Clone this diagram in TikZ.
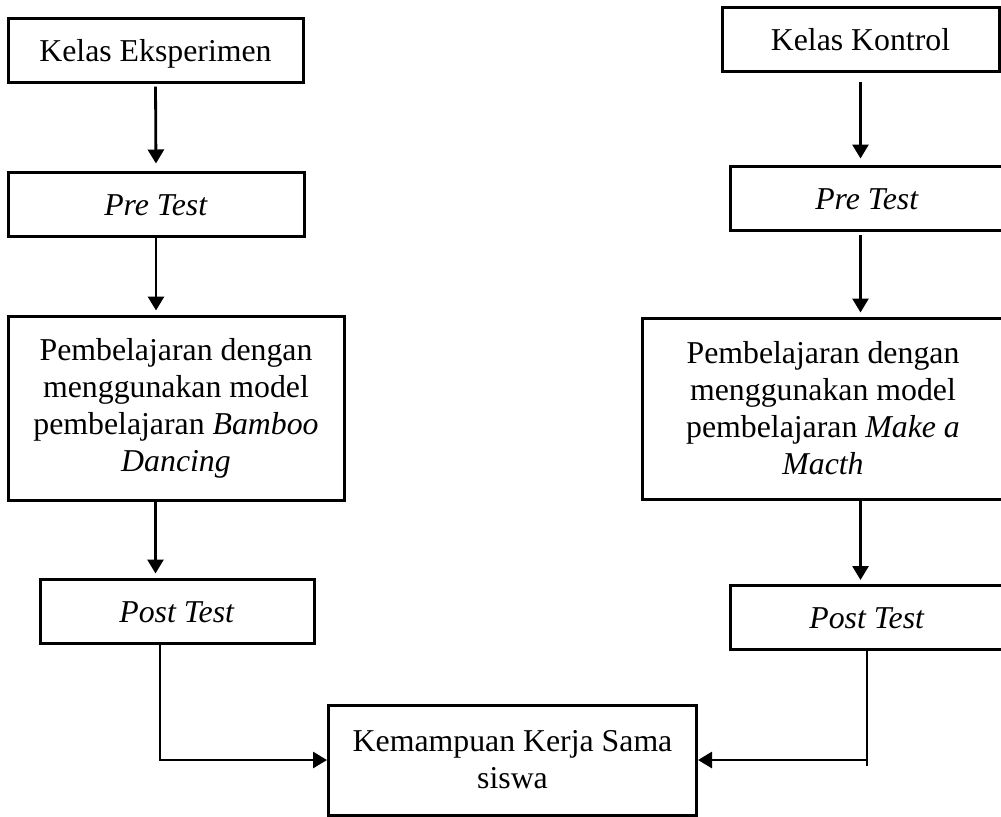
\documentclass[tikz,border=0pt]{standalone}
\usepackage{fontspec}
\setmainfont{Liberation Serif}
\usetikzlibrary{arrows.meta}
\tikzset{
  box/.style={draw, line width=1.5pt, inner sep=0pt, align=center,
              font=\fontsize{15.9}{18.5}\selectfont},
  onebox/.style={box, text height=11pt, text depth=0pt},
  arr/.style={line width=1.4pt, shorten >=2pt, -{Triangle[length=7pt,width=8pt]}},
}

\begin{document}
\begin{tikzpicture}[x=0.5pt, y=-0.5pt]
    \useasboundingbox (0,0) rectangle (1001,816);
    % kelas eksperimen
    \node[onebox, minimum width=147.5pt, minimum height=32pt] (ke) at (155.5,50) {Kelas Eksperimen};
    \node[onebox, minimum width=148pt, minimum height=32pt] (preL) at (156,204) {\textit{Pre Test}};
    \node[box, minimum width=168pt, minimum height=92pt] (learnL) at (176,408)
        {Pembelajaran dengan\\menggunakan model\\pembelajaran \textit{Bamboo}\\\textit{Dancing}};
    \node[onebox, minimum width=137pt, minimum height=32pt] (postL) at (177,611) {\textit{Post Test}};
    % kelas kontrol
    \node[onebox, minimum width=138.5pt, minimum height=32pt] (kk) at (860.5,39) {Kelas Kontrol};
    \node[onebox, minimum width=137pt, minimum height=32pt] (preR) at (867,198) {\textit{Pre Test}};
    \node[box, minimum width=181pt, minimum height=90.5pt] (learnR) at (823,408.5)
        {Pembelajaran dengan\\menggunakan model\\pembelajaran \textit{Make a}\\\textit{Macth}};
    \node[onebox, minimum width=137pt, minimum height=32pt] (postR) at (867,617.5) {\textit{Post Test}};
    % hasil
    \node[box, minimum width=184pt, minimum height=55pt] (hasil) at (512.5,760)
        {Kemampuan Kerja Sama\\siswa};

    \draw[arr, shorten <=1.5pt, shorten >=3.5pt] (ke.south) -- (preL.north);
    \draw[arr] (preL.south) -- (preL.south |- learnL.north);
    \draw[arr] (learnL.south -| ke.south) -- (postL.north -| ke.south);
    \draw[arr, shorten <=4.5pt, shorten >=3pt] (kk.south) -- (kk.south |- preR.north);
    \draw[arr, shorten <=1.5pt] (preR.south -| kk.south) -- (learnR.north -| kk.south);
    \draw[arr] (learnR.south -| kk.south) -- (postR.north -| kk.south);

    \draw[arr, shorten >=0pt] ([xshift=-8.5pt]postL.south) |- (hasil.west);
    \draw[line width=1.4pt] (postR.south) -- ([yshift=-3pt]postR.south |- hasil.east);
    \draw[arr, shorten >=0pt] (postR.south |- hasil.east) -- (hasil.east);
\end{tikzpicture}
\end{document}
